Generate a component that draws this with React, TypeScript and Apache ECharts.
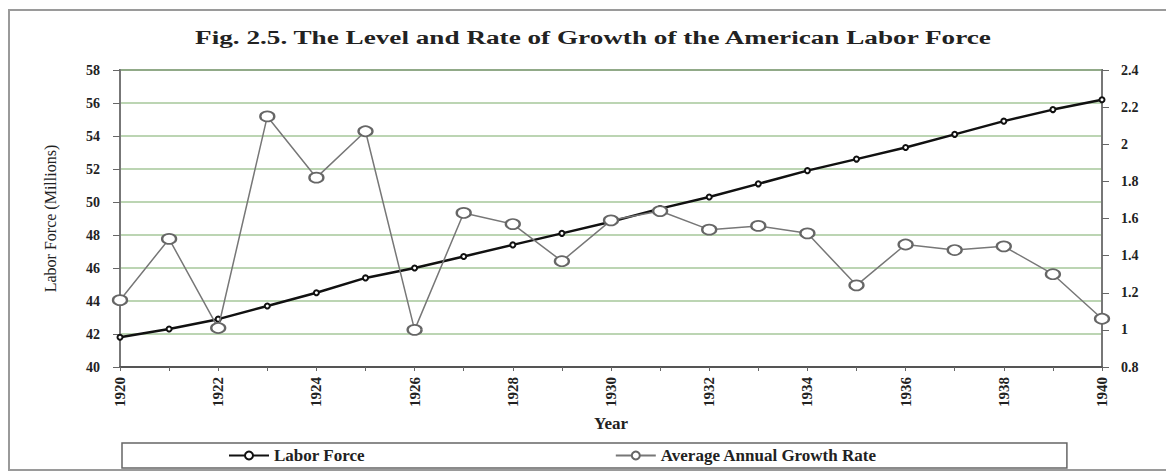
import React, { useEffect, useRef } from "react";
import * as echarts from "echarts";

const years = [
  "1920", "1921", "1922", "1923", "1924", "1925", "1926", "1927", "1928", "1929", "1930",
  "1931", "1932", "1933", "1934", "1935", "1936", "1937", "1938", "1939", "1940",
];
const laborForce = [
  41.8, 42.3, 42.9, 43.7, 44.5, 45.4, 46.0, 46.7, 47.4, 48.1, 48.8,
  49.6, 50.3, 51.1, 51.9, 52.6, 53.3, 54.1, 54.9, 55.6, 56.2,
];
const growthRate = [
  1.16, 1.49, 1.01, 2.15, 1.82, 2.07, 1.0, 1.63, 1.57, 1.37, 1.59,
  1.64, 1.54, 1.56, 1.52, 1.24, 1.46, 1.43, 1.45, 1.3, 1.06,
];
const titleText = "Fig. 2.5. The Level and Rate of Growth of the American Labor Force";
const seriesNames = ["Labor Force", "Average Annual Growth Rate"];

const SERIF = '"Liberation Serif", "Times New Roman", serif';

export default function App() {
  const ref = useRef<HTMLDivElement>(null);
  useEffect(() => {
    document.body.style.margin = "0";
    const chart = echarts.init(ref.current!, null, { renderer: "svg" });
    const labelStyle = { fontFamily: SERIF, fontWeight: "bold" as const, fontSize: 14, color: "#222" };
    chart.setOption({
      animation: false,
      backgroundColor: "#fff",
      graphic: [
        {
          type: "rect",
          shape: { x: 9, y: 10, width: 1162, height: 460 },
          style: { fill: "none", stroke: "#9a9a9a", lineWidth: 2 },
          silent: true,
        },
        {
          type: "text",
          x: 593,
          y: 38,
          scaleX: 1.51,
          style: {
            text: titleText,
            font: `bold 18px ${SERIF}`,
            fill: "#222",
            textAlign: "center",
            textVerticalAlign: "middle",
          },
        },
      ],
      grid: {
        left: 120,
        right: 64,
        top: 70,
        bottom: 107,
        show: true,
        borderColor: "#555",
        borderWidth: 2,
        backgroundColor: "transparent",
      },
      legend: {
        data: seriesNames,
        left: 122,
        top: 443,
        orient: "horizontal",
        padding: [4, 190, 4, 106],
        itemGap: 250,
        itemWidth: 40,
        itemHeight: 10,
        borderColor: "#666",
        borderWidth: 1.5,
        textStyle: { fontFamily: SERIF, fontWeight: "bold", fontSize: 17, color: "#222" },
      },
      xAxis: {
        type: "category",
        data: years,
        boundaryGap: false,
        name: "Year",
        nameLocation: "middle",
        nameGap: 46,
        nameTextStyle: { fontFamily: SERIF, fontWeight: "bold", fontSize: 17, color: "#222" },
        axisLine: { lineStyle: { color: "#555", width: 2 } },
        axisTick: { show: true, interval: 0, length: 4, lineStyle: { color: "#666" } },
        axisLabel: { ...labelStyle, fontSize: 15, interval: 1, rotate: 90, margin: 10 },
        splitLine: { show: false },
      },
      yAxis: [
        {
          type: "value",
          min: 40,
          max: 58,
          interval: 2,
          name: "Labor Force (Millions)",
          nameLocation: "middle",
          nameGap: 62,
          nameTextStyle: { fontFamily: SERIF, fontSize: 16, color: "#222" },
          axisLine: { show: true, lineStyle: { color: "#777", width: 2 } },
          axisTick: { show: true, length: 7, lineStyle: { color: "#666" } },
          axisLabel: { ...labelStyle, margin: 20 },
          splitLine: { show: true, lineStyle: { color: "#a6c79a", width: 1.5 } },
        },
        {
          type: "value",
          position: "right",
          min: 0.8,
          max: 2.4,
          interval: 0.2,
          axisLine: { show: true, lineStyle: { color: "#777", width: 2 } },
          axisTick: { show: true, length: 7, lineStyle: { color: "#666" } },
          axisLabel: { ...labelStyle, margin: 19 },
          splitLine: { show: false },
        },
      ],
      series: [
        {
          name: seriesNames[0],
          type: "line",
          yAxisIndex: 0,
          data: laborForce,
          symbol: "emptyCircle",
          symbolSize: 5,
          lineStyle: { color: "#111", width: 2.5 },
          itemStyle: { color: "#111", borderWidth: 1.5 },
          z: 2,
        },
        {
          name: seriesNames[1],
          type: "line",
          yAxisIndex: 1,
          data: growthRate,
          symbol: "emptyCircle",
          symbolSize: [14, 10],
          lineStyle: { color: "#777", width: 1.5 },
          itemStyle: { color: "#666", borderWidth: 1.5 },
          z: 3,
        },
      ],
    });
    return () => chart.dispose();
  }, []);
  return <div ref={ref} style={{ width: 1166, height: 474 }} />;
}
